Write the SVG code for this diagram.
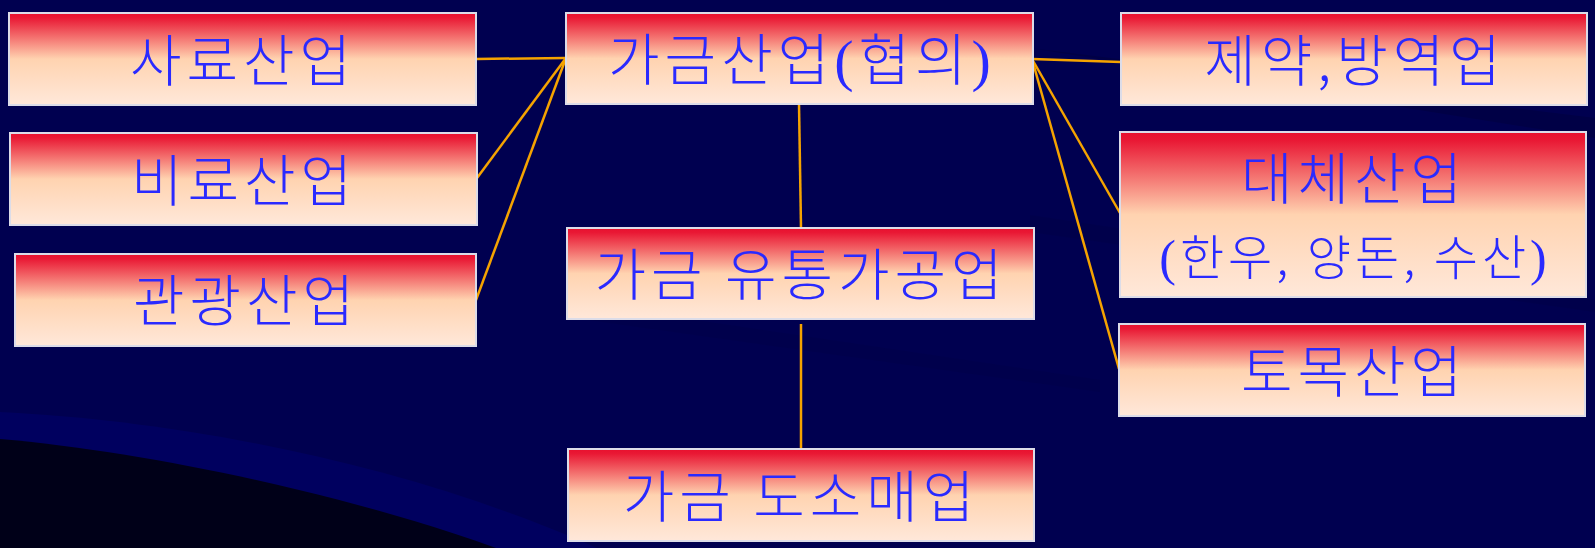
<svg xmlns="http://www.w3.org/2000/svg" width="1595" height="548" viewBox="0 0 1595 548">
<style>
.box{fill:url(#g);stroke:#DCDCE8;stroke-width:2}
.t{font-family:"Noto Sans CJK KR","Noto Sans",sans-serif;font-size:56px;font-weight:300;fill:#2A2AFF;text-anchor:middle;letter-spacing:5px}
.s{font-size:48px;letter-spacing:4px}
.p{font-family:"Liberation Serif",serif;font-weight:400}
.c{stroke:#F5A300;stroke-width:2.5;fill:none}
</style>
<defs>
<linearGradient id="g" x1="0" y1="0" x2="0" y2="1">
<stop offset="0" stop-color="#E8102E"/>
<stop offset="0.05" stop-color="#E91834"/>
<stop offset="0.5" stop-color="#FFD3B0"/>
<stop offset="1" stop-color="#FFE8DA"/>
</linearGradient>
</defs>
<rect width="1595" height="548" fill="#000050"/>
<g id="bg" fill="#000040" opacity="0.6">
<path d="M1030,48 L1595,118 L1595,138 Z"/>
<path d="M1030,215 L1595,300 L1595,312 L1030,232 Z" opacity="0.4"/>
<path d="M560,300 L1100,380 L1100,392 L560,316 Z" opacity="0.3"/>
</g>
<path d="M0,412 C170,420 400,460 597,548 L0,548 Z" fill="#00005F"/>
<path d="M0,439 C150,452 350,495 496,548 L0,548 Z" fill="#000018"/>
<g id="connectors">
<line class="c" x1="476" y1="59" x2="566" y2="58"/>
<line class="c" x1="477" y1="178" x2="566" y2="58"/>
<line class="c" x1="476" y1="300" x2="566" y2="58"/>
<line class="c" x1="1032" y1="59" x2="1121" y2="62"/>
<line class="c" x1="1032" y1="59" x2="1120" y2="213"/>
<line class="c" x1="1032" y1="59" x2="1119" y2="369"/>
<line class="c" x1="799" y1="104" x2="801" y2="228"/>
<line class="c" x1="801" y1="324" x2="801" y2="448"/>
</g>
<g id="n1"><rect class="box" x="9" y="13" width="467" height="92"/><text class="t" x="243" y="81">사료산업</text></g>
<g id="n2"><rect class="box" x="10" y="133" width="467" height="92"/><text class="t" x="244" y="201">비료산업</text></g>
<g id="n3"><rect class="box" x="15" y="254" width="461" height="92"/><text class="t" x="246" y="321">관광산업</text></g>
<g id="n4"><rect class="box" x="566" y="13" width="467" height="91"/><text class="t" x="802" y="80">가금산업<tspan class="p" style="font-size:58px">(</tspan>협의<tspan class="p" style="font-size:58px">)</tspan></text></g>
<g id="n5"><rect class="box" x="567" y="228" width="467" height="91"/><text class="t" x="801" y="295">가금 유통가공업</text></g>
<g id="n6"><rect class="box" x="568" y="449" width="466" height="92"/><text class="t" x="801" y="517">가금 도소매업</text></g>
<g id="n7"><rect class="box" x="1121" y="13" width="466" height="92"/><text class="t" x="1355" y="81">제약,방역업</text></g>
<g id="n8"><rect class="box" x="1120" y="132" width="466" height="165"/><text class="t" x="1354" y="199">대체산업</text><text class="t s" x="1355" y="275"><tspan class="p" style="font-size:50px">(</tspan>한우, 양돈, 수산<tspan class="p" style="font-size:50px">)</tspan></text></g>
<g id="n9"><rect class="box" x="1119" y="324" width="466" height="92"/><text class="t" x="1354" y="392">토목산업</text></g>
</svg>
